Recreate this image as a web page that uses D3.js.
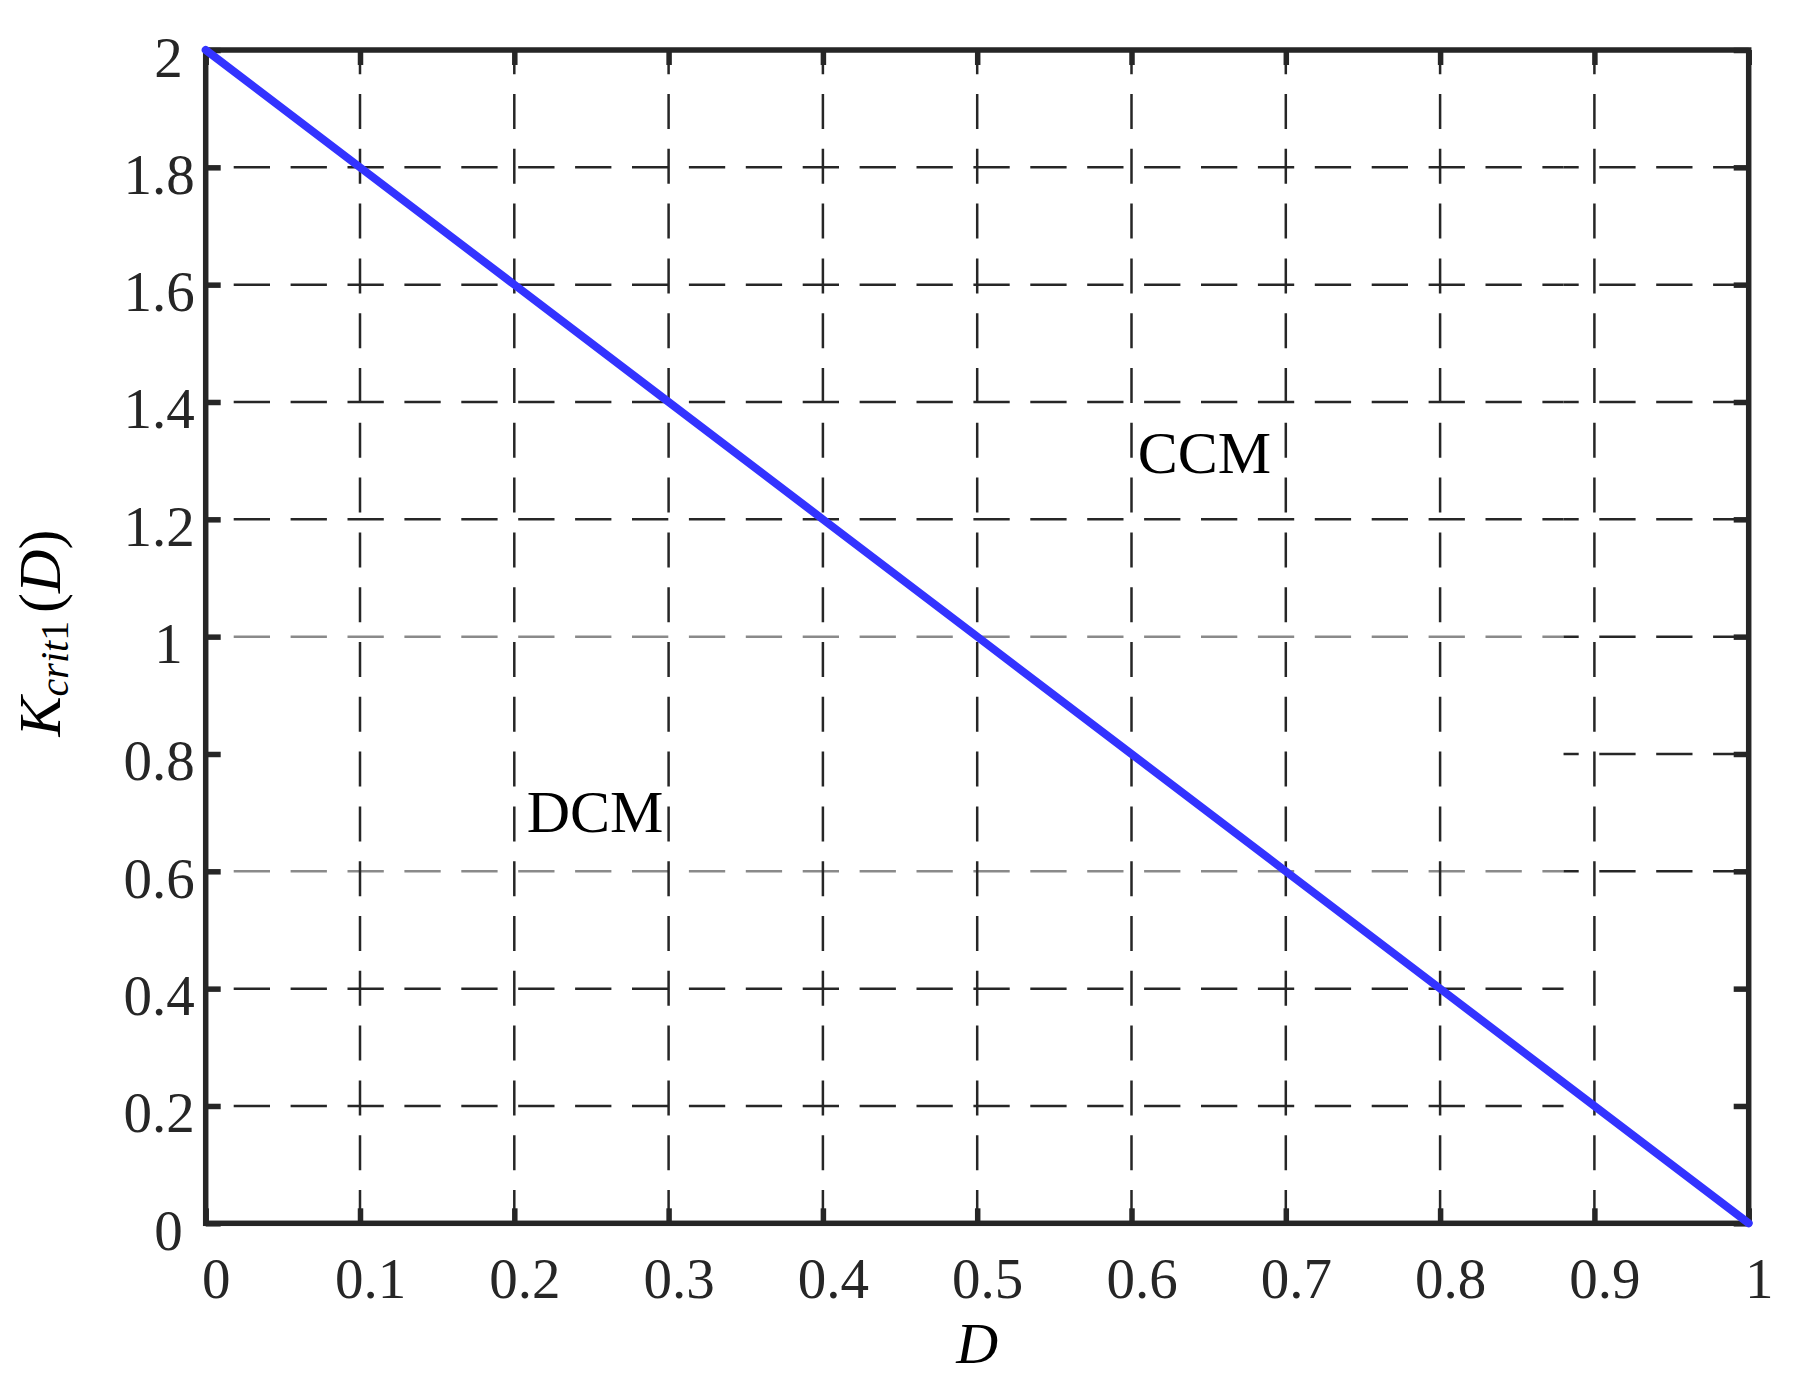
<!DOCTYPE html>
<html>
<head>
<meta charset="utf-8">
<script src="https://cdn.jsdelivr.net/npm/d3@7"></script>
<style>
  html, body { margin: 0; padding: 0; background: #fff; }
  text { font-family: "Liberation Serif", "Times New Roman", serif; }
</style>
</head>
<body>
<div id="chart"></div>
<script>
// duty cycle D and critical K value
const dValues = [0, 0.1, 0.2, 0.3, 0.4, 0.5, 0.6, 0.7, 0.8, 0.9, 1];
const kValues = [2, 1.8, 1.6, 1.4, 1.2, 1.0, 0.8, 0.6, 0.4, 0.2, 0];

const xTicks = [0, 0.1, 0.2, 0.3, 0.4, 0.5, 0.6, 0.7, 0.8, 0.9, 1];
const xTickLabels = ["0", "0.1", "0.2", "0.3", "0.4", "0.5", "0.6", "0.7", "0.8", "0.9", "1"];
const yTicks = [0, 0.2, 0.4, 0.6, 0.8, 1, 1.2, 1.4, 1.6, 1.8, 2];
const yTickLabels = ["0", "0.2", "0.4", "0.6", "0.8", "1", "1.2", "1.4", "1.6", "1.8", "2"];

const regionLabels = ["CCM", "DCM"];
const regionD = [0.604, 0.208];
const regionK = [1.279, 0.667];

const width = 1815;
const height = 1384;
const margin = { top: 50, right: 66.3, bottom: 160.7, left: 205.7 };
const ink = "#262626";

const svg = d3.select("#chart")
  .append("svg")
  .attr("width", width)
  .attr("height", height);

svg.append("rect").attr("width", width).attr("height", height).attr("fill", "#fff");

const x = d3.scaleLinear().domain([0, 1]).range([margin.left, width - margin.right]);
const y = d3.scaleLinear().domain([0, 2]).range([height - margin.bottom, margin.top]);

// horizontal grid; the copied figure has a damaged patch left of D = 0.88
const split = 0.88;
const hDash = "36.3,20.6";
const hOffset = 28.9;
const grid = svg.append("g");

yTicks.filter((d) => d > 0 && d < 2).forEach((v) => {
  let leftColor = ink;
  let rightColor = ink;
  if (v === 1 || Math.abs(v - 0.6) < 1e-9) leftColor = "#8a8a8a";
  if (Math.abs(v - 0.8) < 1e-9) leftColor = null;
  if (v < 0.5) rightColor = null;

  if (leftColor) {
    grid.append("line")
      .attr("x1", x(0)).attr("x2", x(split))
      .attr("y1", y(v)).attr("y2", y(v))
      .attr("stroke", leftColor)
      .attr("stroke-width", 2.5)
      .attr("stroke-dasharray", hDash)
      .attr("stroke-dashoffset", hOffset);
  }
  if (rightColor) {
    grid.append("line")
      .attr("x1", x(split)).attr("x2", x(1))
      .attr("y1", y(v)).attr("y2", y(v))
      .attr("stroke", rightColor)
      .attr("stroke-width", 2.5)
      .attr("stroke-dasharray", hDash)
      .attr("stroke-dashoffset", hOffset + (x(split) - x(0)));
  }
});

grid.selectAll(".vgrid")
  .data(xTicks.filter((d) => d > 0 && d < 1))
  .join("line")
  .attr("class", "vgrid")
  .attr("x1", (d) => x(d)).attr("x2", (d) => x(d))
  .attr("y1", y(2)).attr("y2", y(0))
  .attr("stroke", ink)
  .attr("stroke-width", 2.5)
  .attr("stroke-dasharray", "35,19.8")
  .attr("stroke-dashoffset", 10.8);

// ticks on all four sides, pointing inward
const tickLen = 15;
const styleTicks = (g) => {
  g.select(".domain").remove();
  g.selectAll(".tick line").attr("stroke", ink).attr("stroke-width", 5.5);
};

const xAxis = svg.append("g")
  .attr("transform", `translate(0,${y(0)})`)
  .call(d3.axisBottom(x).tickValues(xTicks).tickSize(-tickLen).tickFormat((d, i) => xTickLabels[i]))
  .call(styleTicks);
xAxis.selectAll(".tick text")
  .attr("y", 75).attr("dy", 0).attr("x", 10)
  .attr("fill", ink)
  .style("font-size", "57px")
  .style("font-family", '"Liberation Serif", "Times New Roman", serif');

svg.append("g")
  .attr("transform", `translate(0,${y(2)})`)
  .call(d3.axisTop(x).tickValues(xTicks).tickSize(-tickLen).tickFormat(""))
  .call(styleTicks);

const yAxis = svg.append("g")
  .attr("transform", `translate(${x(0)},0)`)
  .call(d3.axisLeft(y).tickValues(yTicks).tickSize(-tickLen).tickFormat((d, i) => yTickLabels[i]))
  .call(styleTicks);
yAxis.selectAll(".tick text")
  .attr("x", (d) => (Number.isInteger(d) ? -23 : -11))
  .attr("dy", 26)
  .attr("text-anchor", "end")
  .attr("fill", ink)
  .style("font-size", "57px")
  .style("font-family", '"Liberation Serif", "Times New Roman", serif');

svg.append("g")
  .attr("transform", `translate(${x(1)},0)`)
  .call(d3.axisRight(y).tickValues(yTicks).tickSize(-tickLen).tickFormat(""))
  .call(styleTicks);

// frame
svg.append("rect")
  .attr("x", x(0)).attr("y", y(2))
  .attr("width", x(1) - x(0)).attr("height", y(0) - y(2))
  .attr("fill", "none")
  .attr("stroke", ink)
  .attr("stroke-width", 5.5);

// boundary line
const line = d3.line()
  .x((d, i) => x(dValues[i]))
  .y((d) => y(d));

svg.append("path")
  .datum(kValues)
  .attr("fill", "none")
  .attr("stroke", "#3333ff")
  .attr("stroke-width", 8)
  .attr("stroke-linecap", "round")
  .attr("d", line);

// region labels
svg.selectAll(".region")
  .data(regionLabels)
  .join("text")
  .attr("class", "region")
  .attr("x", (d, i) => x(regionD[i]))
  .attr("y", (d, i) => y(regionK[i]))
  .attr("fill", "#000")
  .style("font-size", "60px")
  .text((d) => d);

// axis titles
svg.append("text")
  .attr("x", (x(0) + x(1)) / 2)
  .attr("y", 1363)
  .attr("text-anchor", "middle")
  .attr("fill", "#000")
  .style("font-size", "58px")
  .style("font-style", "italic")
  .text("D");

const yTitle = svg.append("text")
  .attr("transform", "translate(60,633) rotate(-90)")
  .attr("text-anchor", "middle")
  .attr("fill", "#000")
  .style("font-size", "60px");
yTitle.append("tspan").style("font-style", "italic").text("K");
yTitle.append("tspan").attr("dy", 8).style("font-style", "italic").style("font-size", "40px").text("crit");
yTitle.append("tspan").style("font-size", "40px").text("1");
yTitle.append("tspan").attr("dy", -8).attr("dx", 8).text("(");
yTitle.append("tspan").style("font-style", "italic").text("D");
yTitle.append("tspan").text(")");
</script>
</body>
</html>
